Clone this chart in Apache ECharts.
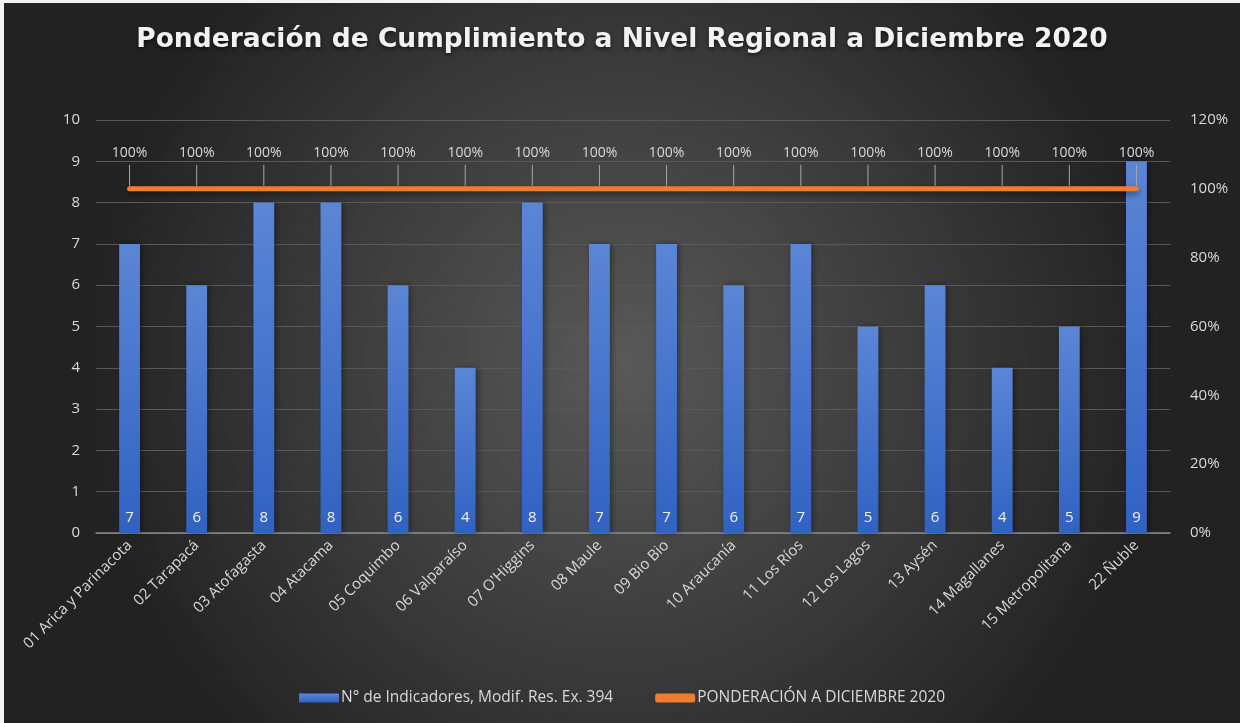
<!DOCTYPE html>
<html>
<head>
<meta charset="utf-8">
<script src="https://cdn.jsdelivr.net/npm/echarts@6/dist/echarts.min.js"></script>
<style>
  html, body { margin: 0; padding: 0; background: #f3f3f3; }
  #chart { position: absolute; left: 4px; top: 3px; width: 1236px; height: 720px; }
</style>
</head>
<body>
<div id="chart"></div>
<script>
const regiones = [
  '01 Arica y Parinacota', '02 Tarapacá', '03 Atofagasta', '04 Atacama', '05 Coquimbo',
  '06 Valparaíso', "07 O'Higgins", '08 Maule', '09 Bio Bio', '10 Araucanía',
  '11 Los Ríos', '12 Los Lagos', '13 Aysén', '14 Magallanes', '15 Metropolitana', '22 Ñuble'
];
const indicadores = [7, 6, 8, 8, 6, 4, 8, 7, 7, 6, 7, 5, 6, 4, 5, 9];
const ponderacion = [1, 1, 1, 1, 1, 1, 1, 1, 1, 1, 1, 1, 1, 1, 1, 1];

const chart = echarts.init(document.getElementById('chart'));
const font = '"Open Sans", "Noto Sans", sans-serif';

// etiquetas de la línea con su guía, como en Excel
function renderEtiqueta(params, api) {
  const p = api.coord([api.value(0), api.value(1)]);
  return {
    type: 'group',
    children: [
      {
        type: 'line',
        shape: { x1: p[0], y1: p[1] - 3, x2: p[0], y2: p[1] - 24 },
        style: { stroke: '#a6a6a6', lineWidth: 1 }
      },
      {
        type: 'text',
        x: p[0], y: p[1] - 29,
        style: {
          text: Math.round(api.value(1) * 100) + '%',
          fill: '#d9d9d9', font: '14px "Open Sans", sans-serif',
          textAlign: 'center', textVerticalAlign: 'bottom'
        }
      }
    ]
  };
}

const option = {
  backgroundColor: {
    type: 'radial', x: 0.5, y: 0.5, r: 0.75,
    colorStops: [
      { offset: 0, color: '#595959' },
      { offset: 1, color: '#222222' }
    ]
  },
  textStyle: { fontFamily: font },
  title: {
    text: 'Ponderación de Cumplimiento a Nivel Regional a Diciembre 2020',
    left: 'center',
    top: 19,
    textStyle: {
      color: '#f2f2f2', fontSize: 26.5, fontWeight: 'bold',
      fontFamily: '"DejaVu Sans", "Open Sans", sans-serif',
      textShadowColor: 'rgba(0,0,0,0.6)', textShadowBlur: 4, textShadowOffsetY: 2
    }
  },
  legend: {
    bottom: 12,
    left: 'center',
    itemGap: 42,
    itemWidth: 40,
    itemHeight: 9,
    textStyle: { color: '#d9d9d9', fontSize: 15.5, fontFamily: font, padding: [0, 0, 0, -3] },
    data: [
      { name: 'N° de Indicadores, Modif. Res. Ex. 394', icon: 'rect' },
      { name: 'PONDERACIÓN A DICIEMBRE 2020', icon: 'roundRect', itemStyle: { color: '#ed7d31' } }
    ]
  },
  grid: { left: 92, right: 70, top: 117, bottom: 190 },
  xAxis: {
    type: 'category',
    data: regiones,
    axisTick: { show: false },
    axisLine: { lineStyle: { color: '#8a8a8a', width: 1.5 } },
    axisLabel: { color: '#d9d9d9', fontSize: 15, rotate: 45, interval: 0, margin: 10 }
  },
  yAxis: [
    {
      type: 'value', min: 0, max: 10, interval: 1,
      axisLabel: { color: '#d9d9d9', fontSize: 15, margin: 16 },
      splitLine: { lineStyle: { color: '#595959', width: 1 } }
    },
    {
      type: 'value', min: 0, max: 1.2, interval: 0.2,
      axisLabel: {
        color: '#d9d9d9', fontSize: 15, margin: 20,
        formatter: v => Math.round(v * 100) + '%'
      },
      splitLine: { show: false }
    }
  ],
  series: [
    {
      name: 'N° de Indicadores, Modif. Res. Ex. 394',
      type: 'bar',
      data: indicadores,
      barWidth: '31%',
      itemStyle: {
        color: {
          type: 'linear', x: 0, y: 0, x2: 0, y2: 1,
          colorStops: [
            { offset: 0, color: '#5b86d6' },
            { offset: 1, color: '#3162c2' }
          ]
        },
        shadowColor: 'rgba(0,0,0,0.4)', shadowBlur: 6, shadowOffsetX: 2
      },
      label: {
        show: true, position: 'insideBottom', distance: 8,
        color: '#f2f2f2', fontSize: 15
      }
    },
    {
      name: 'PONDERACIÓN A DICIEMBRE 2020',
      type: 'line',
      yAxisIndex: 1,
      data: ponderacion,
      symbol: 'none',
      lineStyle: {
        color: '#ed7d31', width: 5, cap: 'round',
        shadowColor: 'rgba(0,0,0,0.5)', shadowBlur: 6, shadowOffsetY: 3
      },
      itemStyle: { color: '#ed7d31' },
      z: 3
    },
    {
      type: 'custom',
      yAxisIndex: 1,
      data: ponderacion.map((v, i) => [i, v]),
      renderItem: renderEtiqueta,
      silent: true,
      z: 4
    }
  ]
};

chart.setOption(option);
window.addEventListener('resize', () => chart.resize());
</script>
</body>
</html>
